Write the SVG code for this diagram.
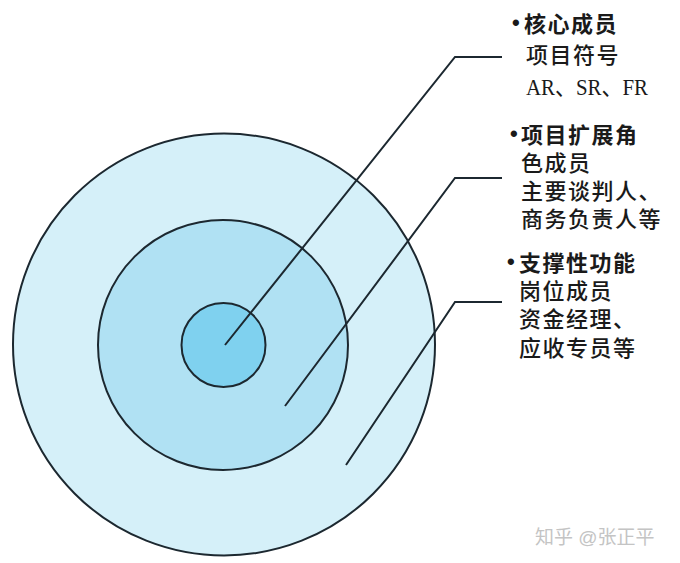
<svg xmlns="http://www.w3.org/2000/svg" width="680" height="563" viewBox="0 0 680 563">
<style>
.ring{stroke:#1c2830;stroke-width:2}
.ln{fill:none;stroke:#1c2830;stroke-width:2}
.t{font-family:"Liberation Sans","Noto Sans CJK SC",sans-serif;font-size:22px;letter-spacing:1.5px;fill:#1a1a1a;font-weight:500}
.b{font-weight:600}
.d{font-family:"Liberation Sans",sans-serif;font-size:22px;font-weight:700;fill:#1a1a1a}
.s{font-family:"Liberation Serif","Noto Sans CJK SC",serif;font-size:23px;fill:#1a1a1a}
.wm{font-family:"Liberation Sans","Noto Sans CJK SC",sans-serif;font-size:19px;fill:#c4c4c4}
</style>
<rect width="680" height="563" fill="#ffffff"/>
<g id="outer"><circle class="ring" cx="224" cy="344.5" r="211" fill="#d5f0f9"/></g>
<g id="middle"><circle class="ring" cx="223" cy="345" r="125" fill="#b0e1f3"/></g>
<g id="inner"><circle class="ring" cx="223.5" cy="345" r="42" fill="#7fd1ef"/></g>
<g id="connectors">
<polyline class="ln" points="225,345 455,57 502,57"/>
<polyline class="ln" points="285,406 455,178 502,178"/>
<polyline class="ln" points="346,465 455,302 502,302"/>
</g>
<g id="label-core">
<text class="d" x="512" y="30">•</text>
<text class="t b" x="524" y="32">核心成员</text>
<text class="t" x="526" y="63">项目符号</text>
<text class="s" x="526" y="95" textLength="122" lengthAdjust="spacingAndGlyphs">AR、SR、FR</text>
</g>
<g id="label-extended">
<text class="d" x="510" y="141">•</text>
<text class="t b" x="521" y="143">项目扩展角</text>
<text class="t" x="521" y="171">色成员</text>
<text class="t" x="521" y="199">主要谈判人、</text>
<text class="t" x="521" y="227">商务负责人等</text>
</g>
<g id="label-support">
<text class="d" x="507" y="269">•</text>
<text class="t b" x="519" y="271">支撑性功能</text>
<text class="t" x="519" y="299">岗位成员</text>
<text class="t" x="519" y="327">资金经理、</text>
<text class="t" x="519" y="356">应收专员等</text>
</g>
<text class="wm" x="535" y="544">知乎 @张正平</text>
</svg>
